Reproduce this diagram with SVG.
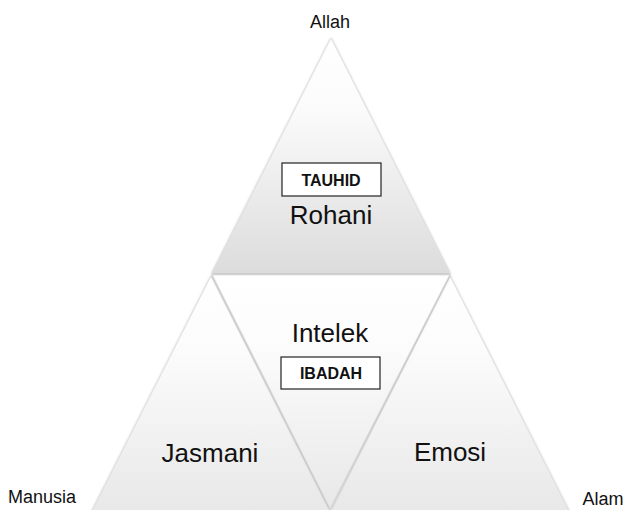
<svg xmlns="http://www.w3.org/2000/svg" width="626" height="510" viewBox="0 0 626 510">
<defs>
<linearGradient id="gTop" x1="0" y1="0" x2="0" y2="1">
<stop offset="0" stop-color="#ffffff"/>
<stop offset="0.3" stop-color="#fbfbfb"/>
<stop offset="1" stop-color="#dcdcdc"/>
</linearGradient>
<linearGradient id="gLow" x1="0" y1="0" x2="0" y2="1">
<stop offset="0" stop-color="#ffffff"/>
<stop offset="0.3" stop-color="#fcfcfc"/>
<stop offset="1" stop-color="#e8e8e8"/>
</linearGradient>
<filter id="sh" x="-10%" y="-10%" width="120%" height="120%">
<feDropShadow dx="0" dy="0.8" stdDeviation="1.2" flood-color="#6e6e6e" flood-opacity="0.6"/>
</filter>
</defs>
<style>
.tri{stroke:#dedede;stroke-width:0.8;filter:url(#sh)}
.lbl{font-family:"Liberation Sans",Arial,sans-serif;fill:#111;text-anchor:middle}
.big{font-size:26px}
.sm{font-size:18px}
.tag{font-family:"Liberation Sans",Arial,sans-serif;font-size:16px;font-weight:bold;fill:#111;text-anchor:middle}
.box{fill:#ffffff;stroke:#222;stroke-width:1.2}
</style>
<g id="connectors"></g>
<g id="jasmani">
<polygon class="tri" points="211,276 330,511 92,511" fill="url(#gLow)"/>
<text class="lbl big" x="210" y="462">Jasmani</text>
</g>
<g id="emosi">
<polygon class="tri" points="450,276 569,511 331,511" fill="url(#gLow)"/>
<text class="lbl big" x="450" y="461">Emosi</text>
</g>
<g id="intelek">
<polygon class="tri" points="212,274 450,274 330,508" fill="url(#gLow)"/>
<text class="lbl big" x="330" y="342">Intelek</text>
<rect class="box" x="281" y="357" width="99" height="32"/>
<text class="tag" x="331" y="379">IBADAH</text>
</g>
<g id="rohani">
<polygon class="tri" points="331,38 450,273 212,273" fill="url(#gTop)"/>
<rect class="box" x="282" y="163" width="99" height="33"/>
<text class="tag" x="331" y="186">TAUHID</text>
<text class="lbl big" x="331" y="224">Rohani</text>
</g>
<g id="allah"><text class="lbl sm" x="330" y="28">Allah</text></g>
<g id="manusia"><text class="lbl sm" x="42" y="503">Manusia</text></g>
<g id="alam"><text class="lbl sm" x="603" y="505">Alam</text></g>
</svg>
